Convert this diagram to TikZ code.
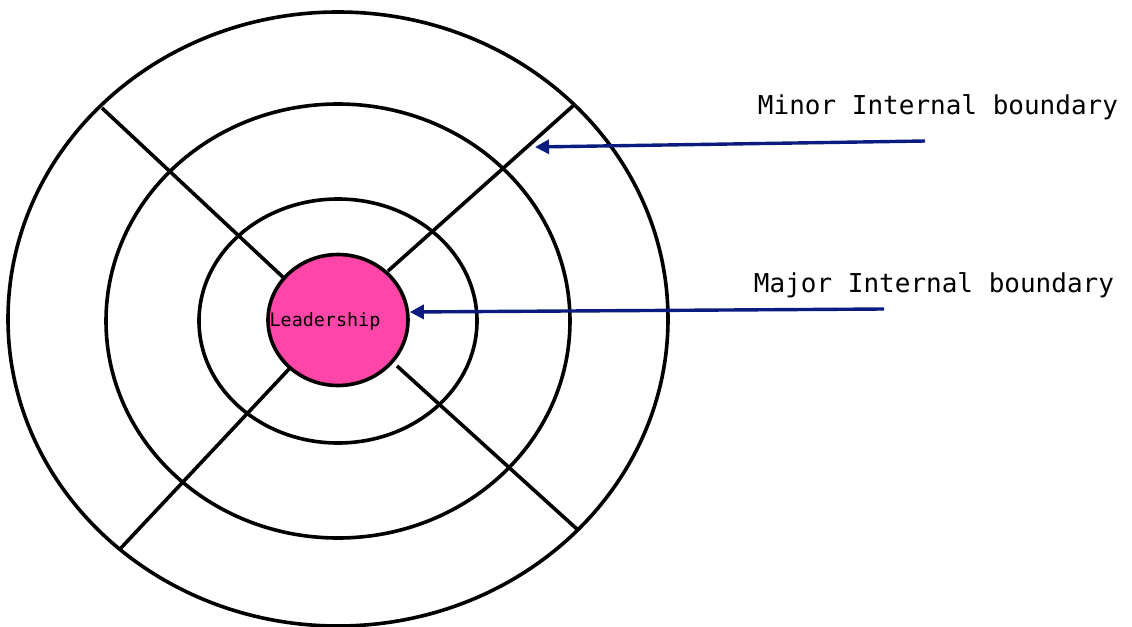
\documentclass[tikz,border=0pt]{standalone}
\usepackage{fontspec}
\newfontfamily\labelfont{DejaVu Sans Mono}
\usetikzlibrary{arrows.meta,shapes.geometric}
\definecolor{leadpink}{HTML}{FF45A8}
\definecolor{arrownavy}{HTML}{0B1C80}

\begin{document}
\begin{tikzpicture}[x=0.5pt,y=-0.5pt, >={Triangle[length=7pt,width=7pt]},
  ring/.style={line width=1.8pt},
  pointer/.style={->,arrownavy,line width=1.7pt},
  tag/.style={font=\labelfont\fontsize{13}{15}\selectfont}]
  \useasboundingbox (0,0) rectangle (1132,627);

  % Rings round the core
  \draw[ring] (338,319) ellipse [x radius=330, y radius=307];
  \draw[ring] (338,321) ellipse [x radius=232, y radius=217];
  \draw[ring] (338,321) ellipse [x radius=139, y radius=122];

  % Spokes
  \draw[ring] (102,108) -- (286,280);
  \draw[ring] (574,105) -- (388,271);
  \draw[ring] (290,368) -- (120,549);
  \draw[ring] (397,366) -- (578,530);

  % Leadership core
  \node[ellipse,draw,ring,fill=leadpink,minimum width=70pt,minimum height=65.5pt,
    inner sep=0pt] (lead) at (338,320) {};
  \node[font=\labelfont\fontsize{9.2}{11}\selectfont] (leadtext) at (325,321) {Leadership};

  % Boundary labels
  \node[tag] (minor) at (938,107) {Minor Internal boundary};
  \node[tag] (major) at (934,285) {Major Internal boundary};

  % Pointers
  \coordinate (minortail) at (925,141);
  \coordinate (minorhead) at (535,147);
  \coordinate (majortail) at (884,309);
  \draw[pointer] (minortail) -- (minorhead);
  \draw[pointer] (majortail) -- (lead.east |- 0,312);
\end{tikzpicture}
\end{document}
